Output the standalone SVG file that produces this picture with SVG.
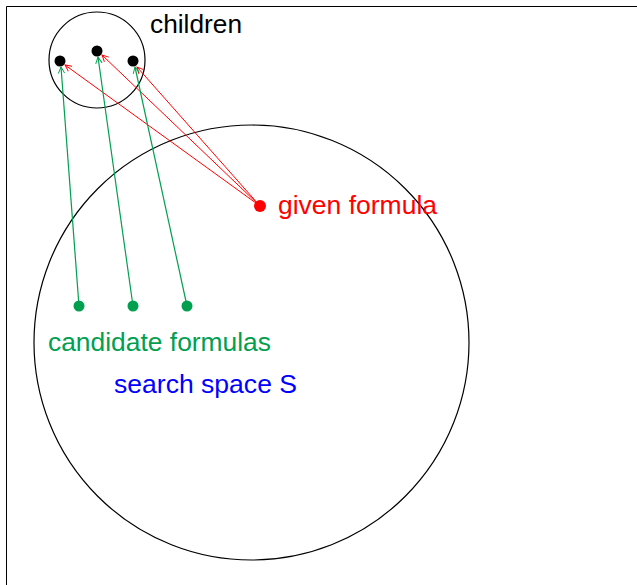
<svg xmlns="http://www.w3.org/2000/svg" width="637" height="585" viewBox="0 0 637 585">
  <style>
    text { font-family: "Liberation Sans", Arial, sans-serif; font-size: 25px; }
    .ring { fill: none; stroke: #000; stroke-width: 1.2; }
    .red { stroke: #ff0000; fill: none; stroke-width: 1; }
    .green { stroke: #00a050; fill: none; stroke-width: 1.2; }
  </style>
  <defs>
    <marker id="arrR" viewBox="0 0 10 10" refX="9" refY="5" markerWidth="8" markerHeight="8" orient="auto" markerUnits="userSpaceOnUse">
      <path d="M1,1 L9,5 L1,9" fill="none" stroke="#ff0000" stroke-width="1.2"/>
    </marker>
    <marker id="arrG" viewBox="0 0 10 10" refX="9" refY="5" markerWidth="8" markerHeight="8" orient="auto" markerUnits="userSpaceOnUse">
      <path d="M1,1 L9,5 L1,9" fill="none" stroke="#00a050" stroke-width="1.2"/>
    </marker>
  </defs>
  <rect width="637" height="585" fill="#fff"/>
  <!-- frame -->
  <path d="M6.5,590 V6.5 H640" fill="none" stroke="#000" stroke-width="1"/>

  <g id="search-space">
    <circle class="ring" cx="251.5" cy="342.5" r="217.5"/>
    <text x="114" y="393" fill="#0000ff" textLength="183" lengthAdjust="spacingAndGlyphs">search space S</text>
  </g>
  <g id="children">
    <circle class="ring" cx="97" cy="60" r="48"/>
    <text x="150" y="33" fill="#000" textLength="92" lengthAdjust="spacingAndGlyphs">children</text>
    <circle cx="60" cy="61" r="5.5"/>
    <circle cx="97" cy="51" r="5.5"/>
    <circle cx="133" cy="61" r="5.5"/>
  </g>
  <g id="given-formula">
    <circle cx="260" cy="206" r="6" fill="#ff0000"/>
    <text x="278" y="214" fill="#ff0000" textLength="159" lengthAdjust="spacingAndGlyphs">given formula</text>
  </g>
  <g id="candidates">
    <circle cx="79" cy="306" r="5.5" fill="#00a050"/>
    <circle cx="133" cy="306" r="5.5" fill="#00a050"/>
    <circle cx="187" cy="306" r="5.5" fill="#00a050"/>
    <text x="48" y="351" fill="#00a050" textLength="223" lengthAdjust="spacingAndGlyphs">candidate formulas</text>
  </g>

  <g id="connectors">
    <line class="red" x1="260" y1="206" x2="65" y2="65" marker-end="url(#arrR)"/>
    <line class="red" x1="260" y1="206" x2="102" y2="55" marker-end="url(#arrR)"/>
    <line class="red" x1="260" y1="206" x2="137" y2="67" marker-end="url(#arrR)"/>
    <line class="green" x1="79" y1="306" x2="61" y2="67" marker-end="url(#arrG)"/>
    <line class="green" x1="133" y1="306" x2="98" y2="57" marker-end="url(#arrG)"/>
    <line class="green" x1="187" y1="306" x2="135" y2="67" marker-end="url(#arrG)"/>
  </g>
</svg>
